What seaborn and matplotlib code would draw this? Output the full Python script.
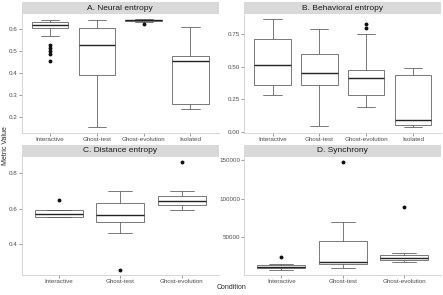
import pandas as pd
import matplotlib
matplotlib.use("Agg")
import matplotlib.pyplot as plt
from matplotlib.patches import Rectangle
import seaborn as sns

# Valores (cada grupo reproduce cuartiles, bigotes y atípicos)
condiciones = ['Interactive', 'Ghost-test', 'Ghost-evolution', 'Isolated']

neural_interactive = [0.457, 0.488, 0.500, 0.514, 0.528, 0.572, 0.606, 0.608, 0.611, 0.614, 0.617, 0.620, 0.622,
                      0.623, 0.625, 0.626, 0.628, 0.630, 0.632, 0.634, 0.636, 0.638, 0.640, 0.642, 0.645]
neural_ghost_test = [0.152, 0.25, 0.33, 0.389, 0.43, 0.48, 0.529, 0.55, 0.58, 0.608, 0.62, 0.635, 0.645]
neural_ghost_evo = [0.626, 0.636, 0.637, 0.638, 0.639, 0.640, 0.641, 0.642, 0.642, 0.643, 0.644, 0.645, 0.646]
neural_isolated = [0.237, 0.245, 0.252, 0.260, 0.32, 0.40, 0.454, 0.46, 0.47, 0.479, 0.52, 0.57, 0.609]

behav_interactive = [0.286, 0.31, 0.34, 0.361, 0.42, 0.47, 0.510, 0.58, 0.65, 0.712, 0.76, 0.82, 0.863]
behav_ghost_test = [0.041, 0.15, 0.28, 0.356, 0.40, 0.43, 0.455, 0.50, 0.55, 0.599, 0.66, 0.72, 0.786]
behav_ghost_evo = [0.194, 0.22, 0.25, 0.279, 0.33, 0.38, 0.414, 0.43, 0.45, 0.471, 0.748, 0.800, 0.825]
behav_isolated = [0.036, 0.040, 0.048, 0.054, 0.065, 0.08, 0.092, 0.20, 0.35, 0.434, 0.45, 0.47, 0.493]

dist_interactive = [0.553, 0.554, 0.5545, 0.555, 0.56, 0.565, 0.570, 0.575, 0.582, 0.590, 0.591, 0.594, 0.651]
dist_ghost_test = [0.255, 0.462, 0.50, 0.526, 0.54, 0.55, 0.562, 0.58, 0.61, 0.630, 0.66, 0.68, 0.70]
dist_ghost_evo = [0.591, 0.60, 0.61, 0.620, 0.628, 0.635, 0.641, 0.65, 0.66, 0.670, 0.685, 0.70, 0.865]

sync_interactive = [7800, 8600, 9300, 9950, 10500, 11200, 11750, 12400, 13300, 14300, 14600, 15000, 24000]
sync_ghost_test = [9500, 12000, 14000, 15600, 16200, 16800, 17300, 25000, 35000, 45350, 55000, 69900, 147800]
sync_ghost_evo = [17600, 18500, 19800, 20700, 21500, 22200, 22800, 23800, 25200, 26700, 27500, 28900, 89660]

titulos = ['A. Neural entropy', 'B. Behavioral entropy', 'C. Distance entropy', 'D. Synchrony']
ticks_y = [[0.2, 0.3, 0.4, 0.5, 0.6],
           [0.0, 0.25, 0.5, 0.75],
           [0.4, 0.6, 0.8],
           [50000, 100000, 150000]]
etiquetas_y = [['0.2', '0.3', '0.4', '0.5', '0.6'],
               ['0.00', '0.25', '0.50', '0.75'],
               ['0.4', '0.6', '0.8'],
               ['50000', '100000', '150000']]

paneles = [
    [neural_interactive, neural_ghost_test, neural_ghost_evo, neural_isolated],
    [behav_interactive, behav_ghost_test, behav_ghost_evo, behav_isolated],
    [dist_interactive, dist_ghost_test, dist_ghost_evo],
    [sync_interactive, sync_ghost_test, sync_ghost_evo],
]


def armar_df(grupos):
    filas = []
    for cond, valores in zip(condiciones, grupos):
        for v in valores:
            filas.append({'Condition': cond, 'value': v})
    return pd.DataFrame(filas)


sns.set_style('white')
plt.rcParams['font.family'] = ['Liberation Sans', 'DejaVu Sans']

fig, axes = plt.subplots(2, 2, figsize=(4.43, 2.95), dpi=100)
fig.subplots_adjust(left=0.0497, right=0.9955, bottom=0.0678, top=0.9525, wspace=0.132, hspace=0.2025)

gris_caja = '#555555'
gris_mediana = '#222222'
for ax, grupos, titulo, yt, yl in zip(axes.flat, paneles, titulos, ticks_y, etiquetas_y):
    df = armar_df(grupos)
    orden = condiciones[:len(grupos)]
    sns.boxplot(data=df, x='Condition', y='value', order=orden, ax=ax,
                color='white', linecolor=gris_caja, linewidth=0.55, width=0.78,
                fliersize=1.8,
                medianprops={'linewidth': 1.0, 'color': gris_mediana},
                flierprops={'marker': 'o', 'markerfacecolor': '#111111', 'markeredgecolor': '#111111'})
    # expansión estilo ggplot
    vmin = min(min(g) for g in grupos)
    vmax = max(max(g) for g in grupos)
    margen = (vmax - vmin) * 0.05
    ax.set_ylim(vmin - margen, vmax + margen)
    ax.set_xlim(-0.6, len(grupos) - 1 + 0.6)
    ax.set_yticks(yt)
    ax.set_yticklabels(yl)
    ax.set_xlabel('')
    ax.set_ylabel('')
    ax.tick_params(axis='both', labelsize=4.5, colors='#4d4d4d', length=2, width=0.4, pad=1.2,
                   left=True, bottom=True)
    for lado in ['top', 'right']:
        ax.spines[lado].set_visible(False)
    for lado in ['left', 'bottom']:
        ax.spines[lado].set_color('#d0d0d0')
        ax.spines[lado].set_linewidth(0.6)
    # franja del título (strip)
    ax.add_patch(Rectangle((0, 1), 1, 0.1, transform=ax.transAxes, facecolor='#d9d9d9',
                           edgecolor='none', clip_on=False))
    ax.text(0.5, 1.05, titulo, transform=ax.transAxes, ha='center', va='center',
            fontsize=6.0, color='#1a1a1a')

fig.text(0.012, 0.505, 'Metric Value', rotation=90, ha='center', va='center', fontsize=5.0)
fig.text(0.523, 0.025, 'Condition', ha='center', va='center', fontsize=5.0)

plt.savefig('out.png', dpi=100)
plt.close()
